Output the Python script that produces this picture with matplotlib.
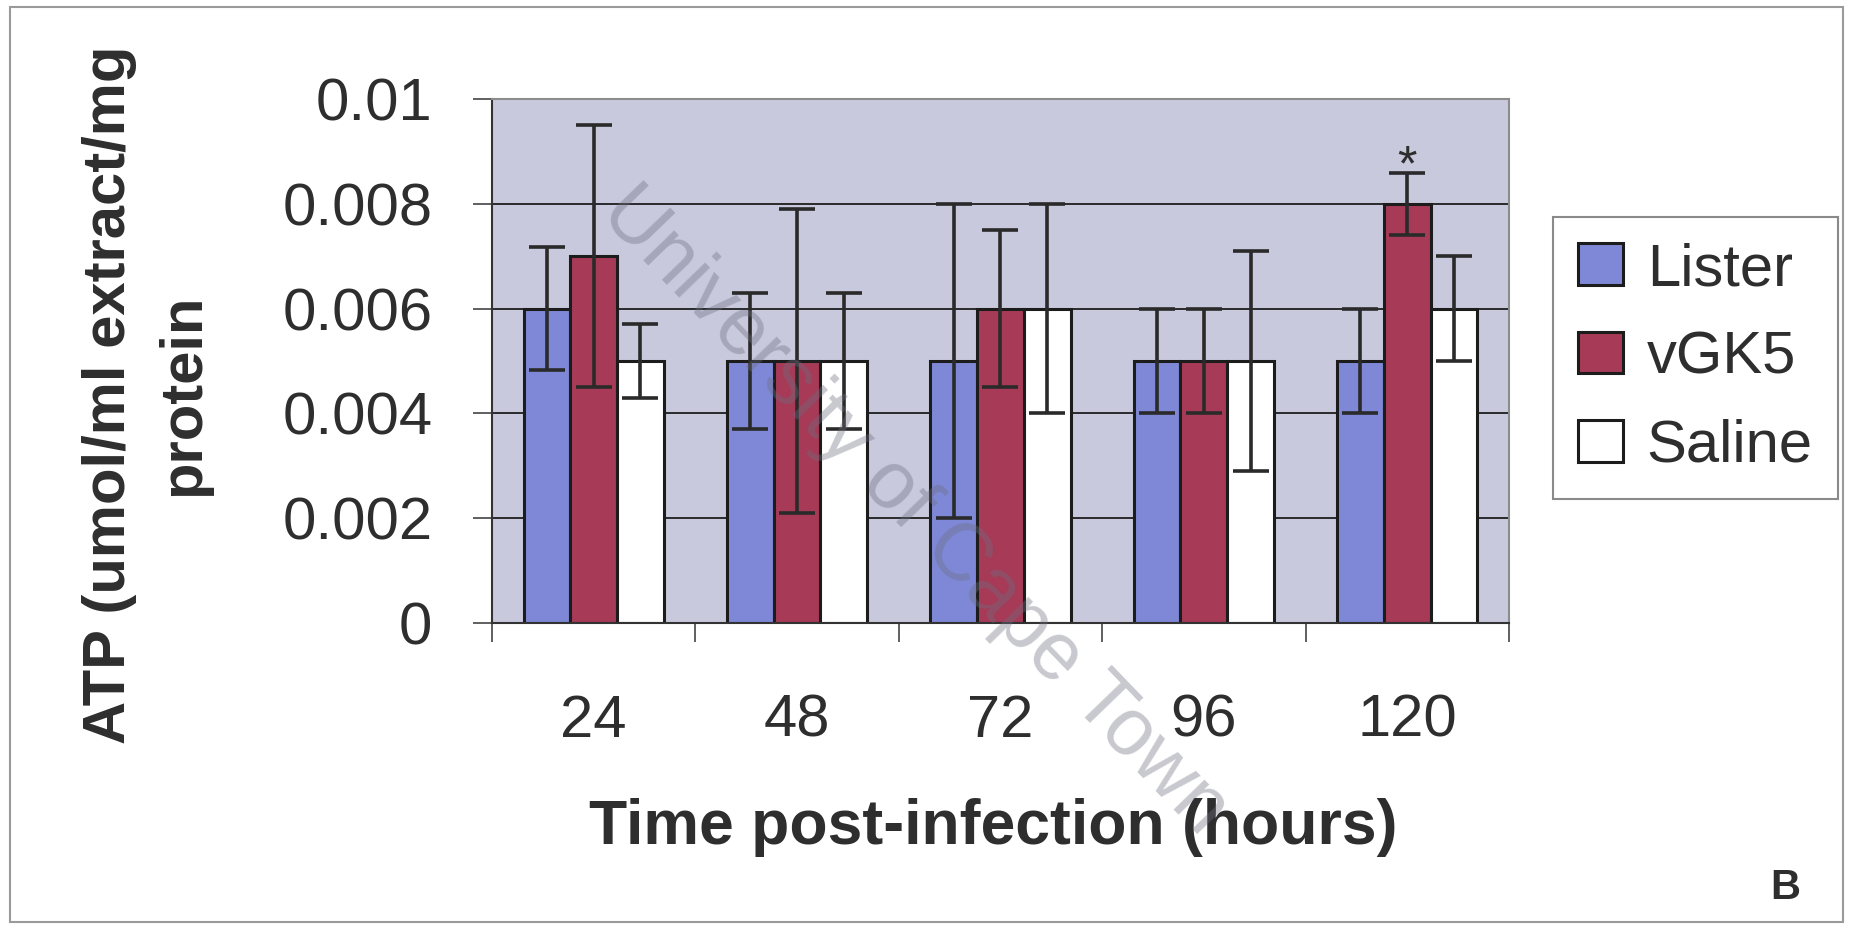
import matplotlib.pyplot as plt
from matplotlib.patches import Rectangle
import numpy as np

plt.rcParams['font.family'] = ['Liberation Sans', 'DejaVu Sans']

# data
hours = ['24', '48', '72', '96', '120']
series = ['Lister', 'vGK5', 'Saline']
lister = [0.006, 0.005, 0.005, 0.005, 0.005]
lister_err = [0.00117, 0.0013, 0.003, 0.001, 0.001]
vgk5 = [0.007, 0.005, 0.006, 0.005, 0.008]
vgk5_err = [0.0025, 0.0029, 0.0015, 0.001, 0.0006]
saline = [0.005, 0.005, 0.006, 0.005, 0.006]
saline_err = [0.0007, 0.0013, 0.002, 0.0021, 0.001]
y_ticks = [0, 0.002, 0.004, 0.006, 0.008, 0.01]
y_labels = ['0', '0.002', '0.004', '0.006', '0.008', '0.01']

colors = ['#7E88D6', '#A63A57', '#FFFFFF']
txt = '#2e2e2e'

fig = plt.figure(figsize=(18.51, 9.27), dpi=100)
ax = fig.add_axes([0.2658, 0.328, 0.5494, 0.565])
ax.set_facecolor('#C9C9DD')

x = np.arange(len(hours))
w = 0.23
vals = [lister, vgk5, saline]
errs = [lister_err, vgk5_err, saline_err]
for i in range(3):
    pos = x + (i - 1) * w
    ax.bar(pos, vals[i], w, color=colors[i], edgecolor='#1c1c1c',
           linewidth=2.2, label=series[i], zorder=2)
    ax.errorbar(pos, vals[i], yerr=errs[i], fmt='none', ecolor='#2a2a2a',
                elinewidth=2.6, capsize=13, capthick=2.6, zorder=3)

# significance mark on vGK5 at 120 h
ax.text(x[4], vgk5[4] + vgk5_err[4] + 0.0001, '*', ha='center', va='center',
        fontsize=36, color=txt, zorder=4)

ax.set_xlim(-0.5, 4.5)
ax.set_ylim(0, 0.01)
ax.set_yticks(y_ticks)
ax.set_yticklabels(y_labels)
ax.set_xticks(x)
ax.set_xticklabels(hours)
ax.set_xticks(np.arange(-0.5, 5.0, 1.0), minor=True)
ax.tick_params(axis='x', which='major', length=0, pad=51, labelsize=43, labelcolor=txt)
ax.tick_params(axis='x', which='minor', length=14, width=1.2, color='#444444')
ax.tick_params(axis='y', length=14, width=1.2, color='#444444', pad=29,
               labelsize=43, labelcolor=txt)

ax.yaxis.grid(True, color='#1e1e1e', linewidth=1.3)
ax.set_axisbelow(True)
for s in ['left', 'bottom']:
    ax.spines[s].set_color('#333333')
    ax.spines[s].set_linewidth(1.5)
for s in ['top', 'right']:
    ax.spines[s].set_color('#8c8c8c')
    ax.spines[s].set_linewidth(1.5)

fig.text(0.079, 0.574, 'ATP (umol/ml extract/mg\nprotein', rotation=90,
         ha='center', va='center', multialignment='center', fontsize=43,
         fontweight='bold', color=txt, linespacing=1.45)
fig.text(0.5365, 0.107, 'Time post-infection (hours)', ha='center', va='center',
         fontsize=45, fontweight='bold', color=txt)
fig.text(0.9643, 0.042, 'B', ha='center', va='center', fontsize=30,
         fontweight='bold', color=txt)

leg = ax.legend(loc='upper left', bbox_to_anchor=(0.839, 0.766),
                bbox_transform=fig.transFigure, borderaxespad=0, fontsize=43,
                handlelength=0.75, handleheight=0.7, handletextpad=0.4,
                labelspacing=0.56, borderpad=0.42, fancybox=False, framealpha=1)
leg.get_frame().set_edgecolor('#8a8a8a')
leg.get_frame().set_linewidth(1.5)
for t in leg.get_texts():
    t.set_color(txt)

# watermark
fig.text(0.494, 0.448, 'University of Cape Town', rotation=-46, ha='center',
         va='center', fontsize=58, color='#6e6e80', alpha=0.38, zorder=10)

fig.patches.append(Rectangle((0.0054, 0.0054), 0.9903, 0.987, transform=fig.transFigure,
                             fill=False, edgecolor='#9a9a9a', linewidth=1.5))

fig.savefig('out.png', dpi=100)
